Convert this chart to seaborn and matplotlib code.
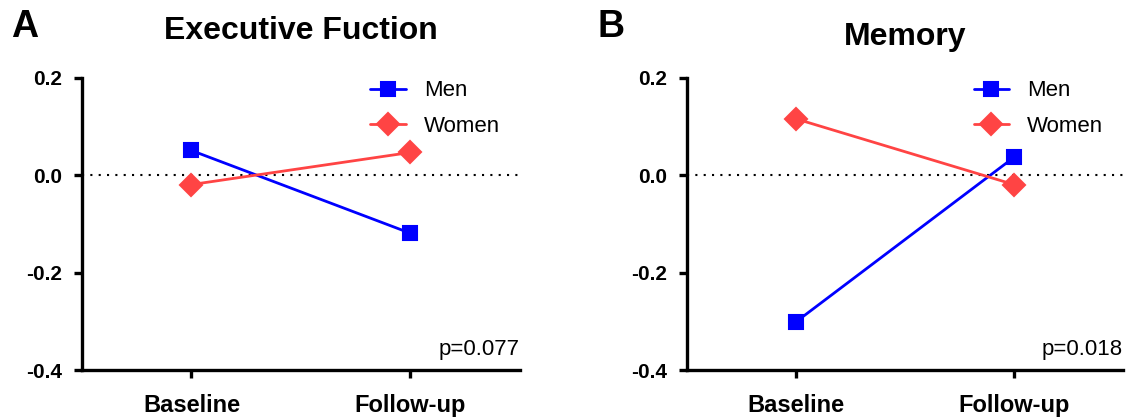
import seaborn as sns
import pandas as pd
import matplotlib.pyplot as plt

# valores
tempos = ['Baseline', 'Follow-up']
grupos = ['Men', 'Women']
exec_men = [0.051, -0.119]
exec_women = [-0.019, 0.047]
mem_men = [-0.301, 0.037]
mem_women = [0.116, -0.019]
titulos = ['Executive Fuction', 'Memory']
letras = ['A', 'B']
p_valores = ['p=0.077', 'p=0.018']
y_ticks = [-0.4, -0.2, 0.0, 0.2]

cores = {'Men': '#0000FF', 'Women': '#FF4444'}


def monta_df(men, women):
    return pd.DataFrame({
        'tempo': tempos * 2,
        'valor': men + women,
        'grupo': ['Men'] * 2 + ['Women'] * 2,
    })


sns.set_style('ticks')
plt.rcParams['font.family'] = ['Liberation Sans', 'DejaVu Sans']
plt.rcParams['text.color'] = 'black'
plt.rcParams['axes.edgecolor'] = 'black'
plt.rcParams['xtick.color'] = 'black'
plt.rcParams['ytick.color'] = 'black'
plt.rcParams['axes.labelcolor'] = 'black'

fig = plt.figure(figsize=(11.35, 4.19), dpi=100)
axA = fig.add_axes([0.0722, 0.1169, 0.3859, 0.697])
axB = fig.add_axes([0.6053, 0.1169, 0.3841, 0.697])

dados = [monta_df(exec_men, exec_women), monta_df(mem_men, mem_women)]
letra_x = [0.010, 0.526]
titulo_pad = [28, 24]

for i, ax in enumerate([axA, axB]):
    ax.axhline(0, color='black', ls=(0, (1, 3)), lw=1.5, zorder=0)
    sns.pointplot(data=dados[i], x='tempo', y='valor', hue='grupo',
                  hue_order=grupos, order=tempos, palette=cores,
                  markers=['s', 'D'], linestyles=['-', '-'],
                  errorbar=None, ax=ax, markersize=10, linewidth=2)
    for ln in ax.lines[1:]:
        if ln.get_marker() == 'D':
            ln.set_markersize(11)

    ax.set_xlim(-0.5, 1.5)
    ax.set_ylim(-0.4, 0.2)
    ax.set_yticks(y_ticks)
    ax.set_yticklabels(['%.1f' % v for v in y_ticks], fontweight='bold', fontsize=15)
    ax.set_xticks([0, 1])
    ax.set_xticklabels(tempos, fontweight='bold', fontsize=17)
    ax.set_xlabel('')
    ax.set_ylabel('')
    sns.despine(ax=ax)
    for s in ['left', 'bottom']:
        ax.spines[s].set_linewidth(2.4)
    ax.tick_params(axis='both', width=2.4, length=6, direction='out')
    ax.tick_params(axis='y', pad=8)
    ax.tick_params(axis='x', pad=11)

    ax.legend(loc='upper right', bbox_to_anchor=(1.0, 1.06), frameon=False,
              fontsize=16, handlelength=1.6, handletextpad=0.8,
              labelspacing=0.65)

    ax.text(1.0, 0.05, p_valores[i], transform=ax.transAxes, ha='right',
            va='baseline', fontsize=16)
    ax.set_title(titulos[i], fontsize=23, fontweight='bold', pad=titulo_pad[i])
    fig.text(letra_x[i], 0.935, letras[i], fontsize=27, fontweight='bold',
             ha='left', va='center')

fig.savefig('out.png', dpi=100)
